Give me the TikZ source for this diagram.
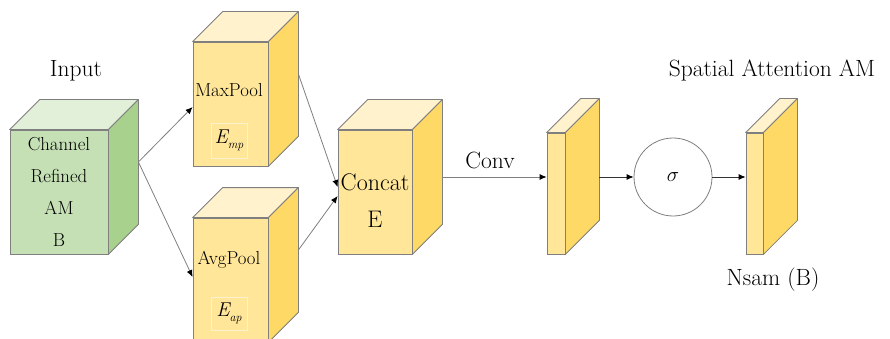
\documentclass[tikz,border=0pt]{standalone}
\usepackage{fontspec}
\usetikzlibrary{arrows.meta,positioning}
\usepackage{xcolor}
\definecolor{edgegray}{HTML}{7F7F7F}
\definecolor{grnfront}{HTML}{C5E0B4}
\definecolor{grntop}{HTML}{E2EFD9}
\definecolor{grnside}{HTML}{A9D18E}
\definecolor{ylwfront}{HTML}{FFE699}
\definecolor{ylwtop}{HTML}{FFF2CC}
\definecolor{ylwside}{HTML}{FFD966}
\newcommand{\bigfont}{\fontsize{23.5}{37}\selectfont}
\newcommand{\midfont}{\fontsize{18.8}{32}\selectfont}
% top and side faces behind a front node: name, depth, top colour, side colour
\newcommand{\boxfaces}[4]{%
	\filldraw[fill=#3, draw=edgegray, line width=0.8pt, line join=round] (#1.north west) -- ++(#2,-#2) -- ([shift={(#2,-#2)}]#1.north east) -- (#1.north east) -- cycle;
	\filldraw[fill=#4, draw=edgegray, line width=0.8pt, line join=round] (#1.north east) -- ++(#2,-#2) -- ([shift={(#2,-#2)}]#1.south east) -- (#1.south east) -- cycle;
}

\begin{document}
\begin{tikzpicture}[x=1pt, y=-1pt,
		front/.style={draw=edgegray, line width=0.8pt, inner sep=0pt},
		grnbox/.style={front, fill=grnfront},
		ylwbox/.style={front, fill=ylwfront},
		ebox/.style={draw=ylwtop, line width=0.6pt, inner sep=0pt, font=\fontsize{20}{20}\selectfont},
		arr/.style={draw=edgegray, line width=0.8pt, -{Latex[length=7pt,width=6pt,color=black]}},
		arrdark/.style={draw=black!80, line width=0.8pt, -{Latex[length=7pt,width=6pt,color=black]}}
	] % {{{
		\useasboundingbox (0,0) rectangle (890,339);
		\clip (0,0) rectangle (890,339);
		\pgfmathsetmacro{\deep}{30}
		\pgfmathsetmacro{\thin}{34}
		% Input   {{{
		\node[font=\bigfont] (ttlinput) at (76,71) {Input} ;
		\node[grnbox, minimum width=98pt, minimum height=124pt, align=center, font=\midfont] (input) at (59,192) {Channel\\Refined\\AM\\B} ;
		\boxfaces{input}{\deep}{grntop}{grnside}
		\coordinate (inback) at ([shift={(\deep,-\deep)}]input.east) ; % }}}
		% Pooling   {{{
		\node[ylwbox, minimum width=75pt, minimum height=124pt] (maxp) at (230.5,104) {} ;
		\boxfaces{maxp}{\deep}{ylwtop}{ylwside}
		\node[font=\midfont] (maxlbl) at (229,90) {MaxPool} ;
		\node[ebox, minimum width=36pt, minimum height=35pt] (emp) at (229,140.5) {\itshape E\raisebox{-5pt}{\fontsize{12}{12}\selectfont mp}} ;
		\coordinate (maxback) at ([shift={(\deep,-\deep)}]maxp.east) ;
		\node[ylwbox, minimum width=75pt, minimum height=124pt] (avgp) at (230.5,280) {} ;
		\boxfaces{avgp}{\deep}{ylwtop}{ylwside}
		\node[font=\midfont] (avglbl) at (229,260) {AvgPool} ;
		\node[ebox, minimum width=36pt, minimum height=33pt] (eap) at (229,313.5) {\itshape E\raisebox{-5pt}{\fontsize{12}{12}\selectfont ap}} ;
		\coordinate (avgback) at ([shift={(\deep,-\deep)}]avgp.east) ; % }}}
		% Concat   {{{
		\node[ylwbox, minimum width=74pt, minimum height=124pt] (concat) at (375,192) {} ;
		\boxfaces{concat}{\deep}{ylwtop}{ylwside}
		\node[font=\fontsize{24}{37}\selectfont, align=center] (catlbl) at (375,201) {Concat\\E} ;
		\coordinate (catback) at ([shift={(\deep,-15)}]concat.east) ; % }}}
		% Conv, sigma, output   {{{
		\node[ylwbox, minimum width=18pt, minimum height=121pt] (conv) at (556,193.5) {} ;
		\boxfaces{conv}{\thin}{ylwtop}{ylwside}
		\coordinate (convback) at ([shift={(\thin,-16.5)}]conv.east) ;
		\node[font=\bigfont] (convlbl) at (490,160) {Conv} ;
		\node[circle, draw=edgegray, line width=0.8pt, minimum size=78pt, inner sep=0pt, font=\fontsize{22}{22}\selectfont] (sig) at (673,177) {$\sigma$} ;
		\node[ylwbox, minimum width=17pt, minimum height=121pt] (nsam) at (754.5,193.5) {} ;
		\boxfaces{nsam}{\thin}{ylwtop}{ylwside}
		\node[font=\bigfont] (ttlout) at (772,70) {Spatial Attention AM} ;
		\node[font=\bigfont] (nsamlbl) at (773,280) {Nsam (B)} ; % }}}
		% Arrows   {{{
		\draw[arr] (inback) -- ([yshift=-3pt]maxp.west) ;
		\draw[arr] (inback) -- ([yshift=3pt]avgp.west) ;
		\draw[arr] (maxback) -- ([yshift=5pt]concat.west) ;
		\draw[arr] (avgback) -- ([yshift=-4pt]concat.west) ;
		\draw[arr] (catback) -- ([yshift=16.5pt]conv.west) ;
		\draw[arrdark] (convback) -- (sig.west) ;
		\draw[arrdark] (sig.east) -- ([yshift=16.5pt]nsam.west) ; % }}}
\end{tikzpicture} % }}}
\end{document}
